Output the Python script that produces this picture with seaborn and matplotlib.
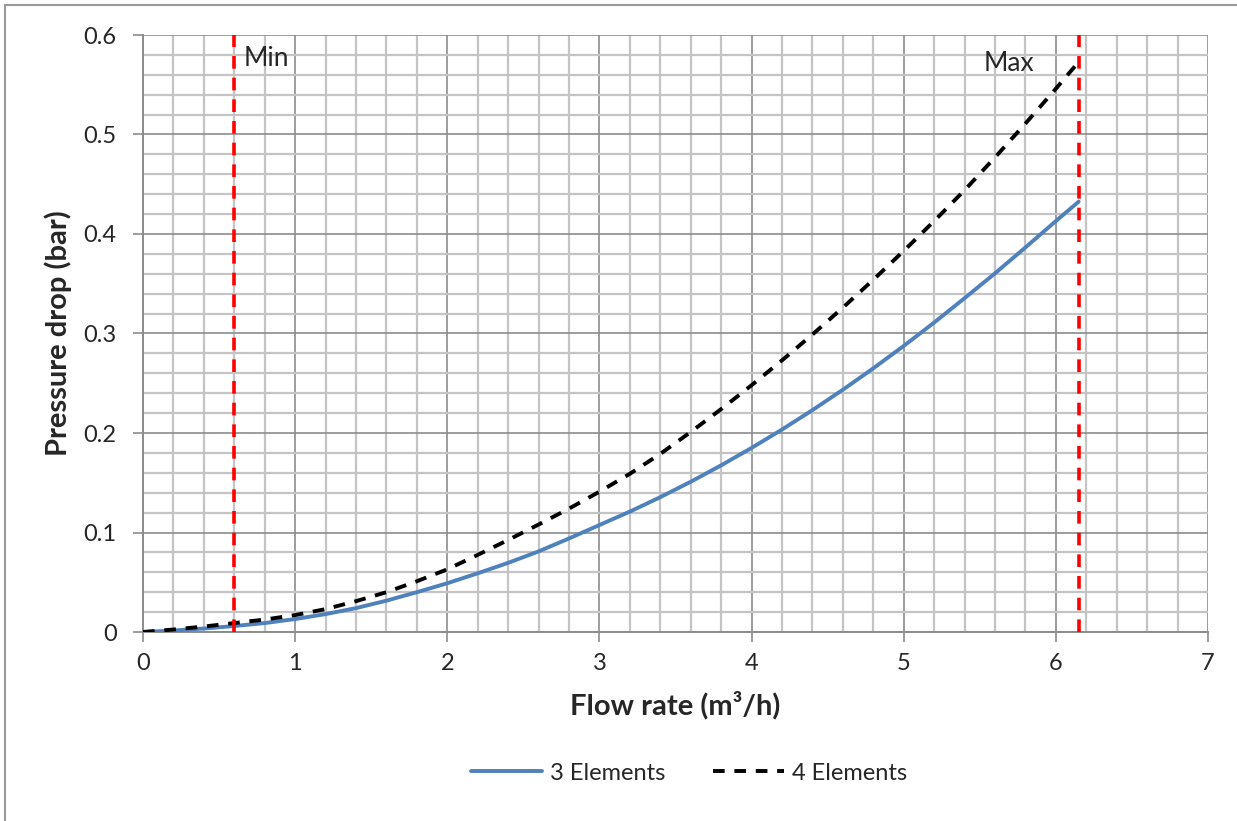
import matplotlib
matplotlib.use("Agg")
import matplotlib.pyplot as plt
import seaborn as sns
import pandas as pd
from matplotlib.ticker import MultipleLocator
from matplotlib.patches import Rectangle

flow = [0, 0.2, 0.4, 0.6, 0.8, 1.0, 1.2, 1.4, 1.6, 1.8, 2.0, 2.2, 2.4, 2.6, 2.8, 3.0,
        3.2, 3.4, 3.6, 3.8, 4.0, 4.2, 4.4, 4.6, 4.8, 5.0, 5.2, 5.4, 5.6, 5.8, 6.0, 6.15]
dp_3 = [0, 0.0015, 0.0035, 0.006, 0.009, 0.013, 0.018, 0.024, 0.0315, 0.040, 0.049, 0.059,
        0.0695, 0.081, 0.094, 0.1075, 0.121, 0.1355, 0.151, 0.1675, 0.185, 0.2035, 0.223,
        0.2435, 0.265, 0.2875, 0.311, 0.3355, 0.3605, 0.3865, 0.413, 0.4325]
dp_4 = [0, 0.0025, 0.0055, 0.009, 0.0125, 0.017, 0.023, 0.031, 0.040, 0.051, 0.063, 0.0775,
        0.0925, 0.108, 0.124, 0.141, 0.159, 0.179, 0.201, 0.224, 0.248, 0.273, 0.299, 0.326,
        0.354, 0.383, 0.413, 0.444, 0.477, 0.511, 0.546, 0.573]
series_names = ["3 Elements", "4 Elements"]
min_flow = 0.6
max_flow = 6.15
x_ticks = [0, 1, 2, 3, 4, 5, 6, 7]
y_ticks = [0, 0.1, 0.2, 0.3, 0.4, 0.5, 0.6]

sns.set_theme(style="white")
plt.rcParams['font.family'] = ['Lato', 'DejaVu Sans']

df = pd.DataFrame({
    "flow": flow * 2,
    "dp": dp_3 + dp_4,
    "series": [series_names[0]] * len(flow) + [series_names[1]] * len(flow),
})

fig = plt.figure(figsize=(12.37, 8.21), dpi=100)
ax = fig.add_axes([143/1237, 1 - 632/821, (1208-143)/1237, (632-35)/821])

# grid
ax.xaxis.set_major_locator(MultipleLocator(1))
ax.xaxis.set_minor_locator(MultipleLocator(0.2))
ax.yaxis.set_major_locator(MultipleLocator(0.1))
ax.yaxis.set_minor_locator(MultipleLocator(0.02))
ax.grid(which="minor", color="#c4c4c4", linewidth=1.6, zorder=0)
ax.grid(which="major", color="#8c8c8c", linewidth=1.2, zorder=0)
ax.set_axisbelow(True)

sns.lineplot(data=df, x="flow", y="dp", hue="series", style="series",
             palette={series_names[0]: "#4f81bd", series_names[1]: "black"},
             dashes={series_names[0]: "", series_names[1]: (3, 2.5)},
             linewidth=2.8, ax=ax, zorder=3)

ax.axvline(min_flow, color="#ff0000", linestyle=(0, (3.5, 2.5)), linewidth=2.6, zorder=4)
ax.axvline(max_flow, color="#ff0000", linestyle=(0, (3.5, 2.5)), linewidth=2.6, zorder=4)
ax.text(min_flow + 0.06, 0.576, "Min", fontsize=19, va="center", ha="left")
ax.text(5.86, 0.571, "Max", fontsize=19, va="center", ha="right")

ax.set_xlim(0, 7)
ax.set_ylim(0, 0.6)
ax.set_xticks(x_ticks)
ax.set_yticks(y_ticks)
ax.set_xticklabels([str(v) for v in x_ticks])
ax.set_yticklabels(["0" if v == 0 else f"{v:.1f}" for v in y_ticks])
ax.tick_params(which="major", direction="out", length=7, width=1.2, color="#8c8c8c",
               labelsize=17, bottom=True, left=True, pad=8)
ax.tick_params(axis="y", which="major", pad=12)
ax.tick_params(which="minor", length=0)

for s in ["top", "right"]:
    ax.spines[s].set_visible(False)
for s in ["left", "bottom"]:
    ax.spines[s].set_color("#8c8c8c")
    ax.spines[s].set_linewidth(1.4)

ax.set_xlabel("Flow rate (m³/h)", fontsize=21, fontweight="bold", labelpad=12)
ax.set_ylabel("Pressure drop (bar)", fontsize=21, fontweight="bold", labelpad=8)

handles, labels = ax.get_legend_handles_labels()
ax.legend(handles, labels, loc="center", bbox_to_anchor=(689/1237, (821-773)/821),
          bbox_transform=fig.transFigure, ncol=2, frameon=False, fontsize=17,
          handlelength=3.0, columnspacing=2.0, handletextpad=0.35)

fig.add_artist(Rectangle((5/1237, -0.1), 1.2, 1 - 5/821 + 0.1, transform=fig.transFigure,
                         fill=False, edgecolor="#999999", linewidth=1.5))

fig.savefig("out.png", dpi=100)
